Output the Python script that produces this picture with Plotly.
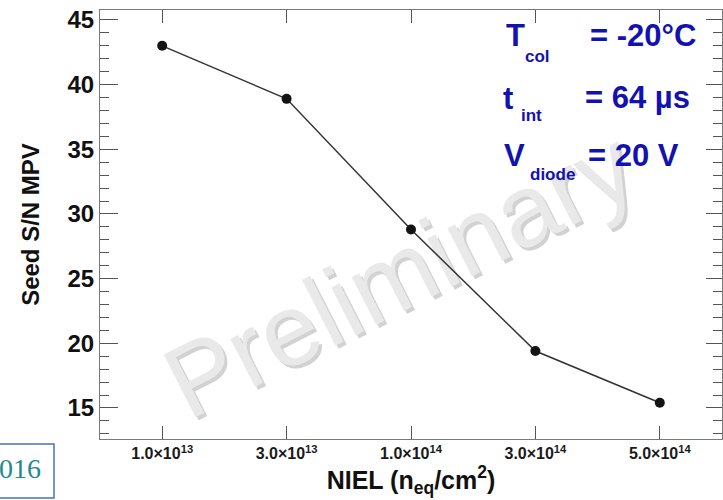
import plotly.graph_objects as go

# Fluence points (neq/cm^2) and measured seed signal-to-noise MPV
fluence_labels = [
    "1.0×10<sup>13</sup>",
    "3.0×10<sup>13</sup>",
    "1.0×10<sup>14</sup>",
    "3.0×10<sup>14</sup>",
    "5.0×10<sup>14</sup>",
]
seed_sn_mpv = [43.0, 38.9, 28.8, 19.4, 15.4]
y_ticks = [15, 20, 25, 30, 35, 40, 45]

# Operating conditions printed in the corner
conditions = [
    ("T", "col", "= -20°C"),
    ("t", "int", "= 64 µs"),
    ("V", "diode", "= 20 V"),
]

W, H = 723, 500
L, R, T, B = 100, 722, 10, 439
PW, PH = R - L, B - T
Y_RANGE = [12.6, 45.77]


def px(xp):
    return (xp - L) / PW


def py(yp):
    return (B - yp) / PH


positions = list(range(len(fluence_labels)))

fig = go.Figure()
fig.add_trace(go.Scatter(
    x=positions,
    y=seed_sn_mpv,
    mode="lines+markers",
    line=dict(color="#333333", width=1.5),
    marker=dict(color="#141414", size=10),
    showlegend=False,
))
# invisible twin on the right-hand axis so it carries its own minor ticks
fig.add_trace(go.Scatter(
    x=positions, y=seed_sn_mpv, yaxis="y2", mode="markers",
    marker=dict(opacity=0), hoverinfo="skip", showlegend=False,
))

sans = "Liberation Sans, Arial, sans-serif"
frame = "#7a7a7a"
tickc = "#555555"

fig.update_layout(
    xaxis=dict(
        range=[-0.5, 4.5],
        tickmode="array",
        tickvals=positions,
        ticktext=fluence_labels,
        ticks="inside",
        ticklen=13,
        tickwidth=1,
        tickcolor=tickc,
        showline=True,
        linecolor=frame,
        linewidth=1.2,
        mirror="ticks",
        showgrid=False,
        zeroline=False,
        tickfont=dict(family=sans, size=16, color="#1a1a1a", weight="bold"),
        title=dict(text="NIEL (n<sub>eq</sub>/cm<sup>2</sup>)",
                   font=dict(family=sans, size=25, color="#111111", weight="bold"),
                   standoff=4),
    ),
    yaxis=dict(
        range=Y_RANGE,
        tickmode="array",
        tickvals=y_ticks,
        ticks="inside",
        ticklen=18,
        tickwidth=1,
        tickcolor=tickc,
        minor=dict(dtick=1, tick0=0, ticks="inside", ticklen=9, tickcolor=tickc, tickwidth=1),
        showline=True,
        linecolor=frame,
        linewidth=1.2,
        mirror=True,
        showgrid=False,
        zeroline=False,
        tickfont=dict(family=sans, size=24, color="#111111", weight="bold"),
        title=dict(text="Seed S/N MPV",
                   font=dict(family=sans, size=24, color="#111111", weight="bold"),
                   standoff=20),
    ),
    yaxis2=dict(
        range=Y_RANGE,
        overlaying="y",
        side="right",
        tickmode="array",
        tickvals=y_ticks,
        ticks="inside",
        ticklen=16,
        tickwidth=1,
        tickcolor=tickc,
        minor=dict(dtick=1, tick0=0, ticks="inside", ticklen=9, tickcolor=tickc, tickwidth=1),
        showticklabels=False,
        showline=False,
        showgrid=False,
        zeroline=False,
    ),
)

shapes = []
# "Preliminary" watermark beneath the data: shadow first, then the face
for dx, dy, col in [(3, 3, "#d2d2d2"), (0, 0, "#e9e9e9")]:
    shapes.append(dict(
        type="rect", xref="paper", yref="paper",
        x0=px(145 + dx), x1=px(645 + dx), y0=py(380 + dy), y1=py(150 + dy),
        line=dict(width=0), fillcolor="rgba(0,0,0,0)", layer="below",
        label=dict(text="Preliminary", textangle=-27, textposition="middle center",
                   font=dict(family=sans, size=102, color=col)),
    ))
# framed year stamp in the lower-left corner
shapes.append(dict(
    type="rect", xref="paper", yref="paper",
    x0=px(-5), x1=px(54), y0=py(498), y1=py(444),
    line=dict(color="#4472c4", width=1.5), fillcolor="rgba(0,0,0,0)",
))

annotations = [dict(
    x=px(43), y=py(468), xref="paper", yref="paper",
    text="2016", showarrow=False, xanchor="right", yanchor="middle",
    font=dict(family="Liberation Serif, Times New Roman, serif", size=28, color="#1f8a8f"),
)]

blue = "#1212b0"
sym_pos = [(515, 36), (508, 98), (514, 155)]
sub_pos = [(537, 57), (531, 115), (552, 175)]
val_pos = [(588, 36), (583, 97), (586, 155)]
for (sym, sub, val), (sx, sy), (bx, by), (vx, vy) in zip(conditions, sym_pos, sub_pos, val_pos):
    annotations.append(dict(x=px(sx), y=py(sy), xref="paper", yref="paper", text=sym,
                            showarrow=False, xanchor="center", yanchor="middle",
                            font=dict(family=sans, size=31, color=blue, weight="bold")))
    annotations.append(dict(x=px(bx), y=py(by), xref="paper", yref="paper", text=sub,
                            showarrow=False, xanchor="center", yanchor="middle",
                            font=dict(family=sans, size=17, color=blue, weight="bold")))
    annotations.append(dict(x=px(vx), y=py(vy), xref="paper", yref="paper", text=val,
                            showarrow=False, xanchor="left", yanchor="middle",
                            font=dict(family=sans, size=31, color=blue, weight="bold")))

fig.update_layout(
    width=W, height=H,
    margin=dict(l=L, r=W - R, t=T, b=H - B, autoexpand=False),
    paper_bgcolor="white",
    plot_bgcolor="white",
    shapes=shapes,
    annotations=annotations,
)

fig.write_html("out.html")
